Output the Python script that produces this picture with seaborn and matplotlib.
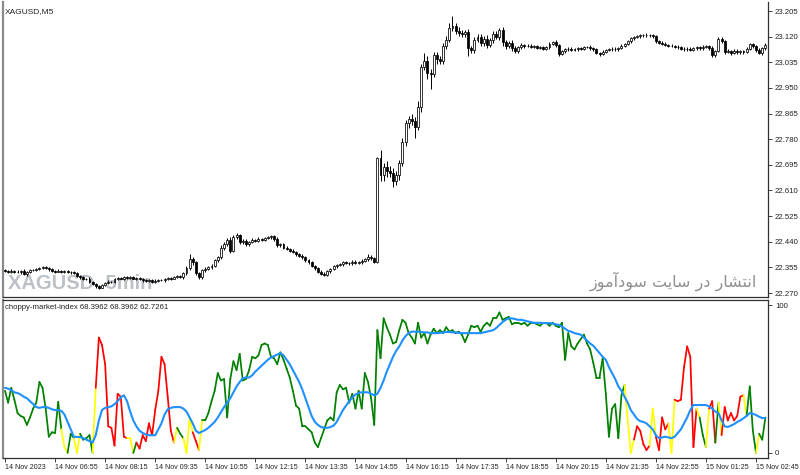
import numpy as np
import pandas as pd
import matplotlib
matplotlib.use("Agg")
import matplotlib.pyplot as plt
import seaborn as sns
from matplotlib.collections import LineCollection

sns.set_style("white")
plt.rcParams['font.family'] = ['Liberation Sans', 'DejaVu Sans']

# ---------------- data (prices in thousandths) ----------------
first_open_k = 22345
closes_k = [
    22342, 22340, 22344, 22341, 22338, 22343, 22332, 22340, 22347, 22346,
    22350, 22352, 22356, 22352, 22348, 22343, 22341, 22344, 22340, 22342,
    22338, 22340, 22336, 22328, 22322, 22316, 22318, 22305, 22300, 22292,
    22288, 22296, 22303, 22308, 22306, 22316, 22320, 22318, 22324, 22320,
    22322, 22318, 22321, 22316, 22312, 22309, 22313, 22307, 22311, 22314,
    22312, 22316, 22320, 22318, 22324, 22326, 22322, 22335, 22352, 22382,
    22372, 22336, 22322, 22345, 22350, 22355, 22360, 22378, 22388, 22420,
    22432, 22445, 22410, 22455, 22462, 22440, 22444, 22432, 22440, 22446,
    22444, 22450, 22447, 22452, 22455, 22458, 22450, 22428, 22432, 22420,
    22415, 22410, 22405, 22398, 22394, 22388, 22378, 22372, 22360, 22352,
    22340, 22334, 22330, 22342, 22350, 22358, 22362, 22366, 22372, 22370,
    22368, 22374, 22370, 22372, 22376, 22382, 22390, 22386, 22374, 22718,
    22660, 22688, 22675, 22668, 22640, 22660, 22700, 22770, 22832, 22848,
    22840, 22820, 22886, 23020, 23040, 23000, 22996, 23060, 23045, 23040,
    23090, 23110, 23150, 23155, 23140, 23132, 23128, 23135, 23082, 23075,
    23110, 23120, 23098, 23112, 23092, 23108, 23128, 23120, 23142, 23102,
    23088, 23100, 23082, 23072, 23085, 23092, 23088, 23090, 23086, 23088,
    23083, 23085, 23080, 23084, 23096, 23102, 23092, 23062, 23072, 23078,
    23080, 23076, 23079, 23082, 23080, 23085, 23086, 23082, 23078, 23066,
    23062, 23070, 23075, 23078, 23080, 23078, 23082, 23090, 23096, 23104,
    23114, 23118, 23122, 23124, 23124, 23126, 23124, 23122, 23104, 23100,
    23096, 23092, 23090, 23088, 23086, 23084, 23080, 23078, 23080, 23077,
    23082, 23084, 23081, 23086, 23088, 23082, 23058, 23072, 23112, 23105,
    23070, 23072, 23066, 23074, 23068, 23072, 23070, 23080, 23094, 23088,
    23076, 23066, 23082, 23092,
]
hi_ext_k = [
    4, 3, 5, 3, 4, 3, 5, 4, 3, 4,
    3, 4, 3, 4, 3, 5, 3, 4, 3, 3,
    4, 3, 4, 5, 3, 4, 3, 5, 4, 3,
    5, 4, 3, 4, 3, 4, 3, 4, 3, 4,
    3, 4, 3, 3, 4, 3, 4, 3, 4, 3,
    4, 3, 4, 3, 4, 3, 5, 6, 8, 18,
    6, 5, 4, 6, 5, 4, 6, 5, 6, 8,
    6, 8, 10, 6, 8, 5, 6, 5, 4, 5,
    4, 5, 4, 5, 4, 5, 4, 6, 5, 4,
    5, 4, 5, 4, 5, 4, 5, 4, 5, 4,
    4, 5, 4, 5, 4, 5, 4, 5, 4, 5,
    4, 5, 4, 5, 6, 5, 8, 6, 5, 4,
    25, 12, 20, 15, 18, 15, 10, 15, 12, 8,
    14, 12, 20, 10, 25, 15, 12, 8, 10, 12,
    10, 12, 15, 32, 10, 12, 10, 8, 10, 8,
    8, 10, 8, 10, 12, 8, 10, 12, 8, 10,
    8, 6, 8, 6, 5, 6, 5, 4, 5, 4,
    4, 5, 4, 5, 6, 5, 6, 5, 4, 5,
    4, 5, 4, 5, 4, 5, 4, 5, 4, 5,
    4, 5, 4, 5, 4, 5, 4, 5, 4, 5,
    4, 5, 4, 5, 4, 5, 4, 5, 4, 5,
    4, 5, 4, 5, 4, 5, 4, 5, 4, 5,
    4, 5, 4, 5, 4, 5, 6, 5, 8, 6,
    5, 6, 5, 6, 5, 4, 5, 6, 5, 6,
    5, 6, 5, 6,
]
lo_ext_k = [
    3, 4, 3, 5, 3, 4, 3, 4, 3, 4,
    4, 3, 4, 3, 4, 3, 5, 3, 4, 3,
    3, 4, 3, 4, 5, 3, 4, 3, 4, 5,
    4, 3, 4, 3, 4, 3, 4, 3, 4, 3,
    4, 3, 4, 3, 4, 4, 3, 4, 3, 4,
    3, 4, 3, 4, 3, 4, 3, 4, 5, 6,
    8, 6, 6, 5, 6, 5, 4, 5, 6, 6,
    8, 6, 6, 5, 6, 8, 6, 5, 6, 5,
    4, 5, 4, 5, 4, 5, 6, 5, 4, 5,
    4, 5, 4, 5, 4, 5, 4, 5, 4, 5,
    5, 4, 5, 4, 5, 4, 5, 4, 5, 4,
    5, 4, 5, 4, 5, 4, 5, 6, 5, 4,
    20, 18, 22, 15, 20, 12, 15, 10, 12, 15,
    12, 36, 10, 15, 12, 20, 50, 10, 15, 12,
    10, 12, 8, 10, 12, 10, 8, 10, 25, 10,
    10, 8, 10, 8, 10, 8, 10, 8, 10, 12,
    8, 6, 8, 6, 5, 6, 5, 4, 5, 4,
    5, 4, 5, 4, 5, 4, 6, 5, 4, 5,
    4, 5, 4, 5, 4, 5, 4, 5, 4, 5,
    5, 4, 5, 4, 5, 4, 5, 4, 5, 4,
    4, 5, 4, 5, 4, 5, 4, 5, 4, 5,
    5, 4, 5, 4, 5, 4, 5, 4, 5, 4,
    4, 5, 4, 5, 4, 5, 6, 5, 4, 5,
    6, 5, 6, 5, 6, 5, 6, 5, 4, 5,
    6, 5, 6, 5,
]
choppy = [
    42, 34, 44, 36, 27, 25, 24, 19, 24, 30,
    34, 48, 44, 30, 11, 14, 13.5, 34.5, 16, 4,
    0, 13, 10, 0, 13, 9, 10, 12, 0, 44,
    78, 73, 60, 18, 17, 5, 40, 38, 11, 10,
    10, 0, 7, 3, 12, 8, 20, 12, 29, 42,
    65, 60, 38, 15, 7, 17, 13, 10, 0, 24,
    14, 8, 2, 22, 22, 27, 35, 42, 54, 49,
    50, 24, 50, 62, 56, 67, 49, 50, 56, 65,
    64, 66, 73, 74, 73, 65, 64, 60, 68, 63,
    57, 51, 42, 32, 30, 18, 18, 16, 14, 7,
    4, 10, 16, 22, 24, 22, 41, 46, 43, 44,
    34, 40, 30, 42, 30, 54, 48, 37, 19, 83,
    64, 91, 85, 80, 74, 75, 83, 90, 88, 81,
    78, 74, 88, 78, 81, 74, 80, 84, 81, 83,
    81, 85, 82, 83, 81, 82, 80, 75, 80, 86,
    85, 86, 82, 86, 88, 86, 91, 91, 95, 90,
    91, 92, 87, 88, 88, 87, 88, 86, 88, 88,
    87, 86, 88, 88, 86, 88, 86, 85, 88, 63,
    81, 72, 70, 74, 77, 80, 74, 70, 61, 51,
    51, 64, 40, 11, 30, 33, 10, 39, 46, 22,
    0, 9, 18, 15, 6, 2, 5, 30, 11, 2,
    24, 16, 20, 0, 36, 35, 36, 58, 72, 65,
    4, 30, 24, 12, 4, 30, 35, 7, 34, 12,
    31, 22, 27, 22, 25, 38, 39, 25, 45, 15,
    0, 13, 9, 24,
]
choppy_ma = [
    44, 43.5, 42.5, 41, 40.5, 39.5, 38, 37, 35, 33,
    31, 30.5, 31, 31, 30.5, 29.5, 29, 29, 28.5, 26,
    21, 16, 11, 10.8, 10.8, 10, 9, 8, 7, 12,
    22, 29, 30.5, 31, 31.5, 33, 35, 37.5, 39, 35,
    28, 22, 18, 15, 13.5, 12.5, 12, 12, 12, 16,
    20, 26, 29.5, 30.5, 31, 31, 31, 30, 28, 24,
    20, 15, 13.5, 14.5, 15.5, 17, 19, 21, 24, 27.5,
    31, 34, 37, 41, 45, 48, 50.5, 51, 51, 52.5,
    55, 57, 59, 61, 63, 64.5, 65.5, 66.5, 67.5, 66,
    63, 60, 56, 52, 48, 43, 37, 31, 25, 21,
    19, 17.5, 17, 17, 17.5, 18.5, 21, 25, 29, 32,
    35, 37.5, 39.5, 40.5, 41, 41, 41, 40, 39, 40,
    44, 49, 55, 60, 65, 69, 72, 76, 79, 81,
    82, 82, 82, 81.8, 81.5, 81.5, 81, 81, 81, 81.2,
    81.5, 81.8, 81.8, 81.5, 81.5, 81.2, 81, 81, 81, 81,
    81, 81, 81, 81.5, 82, 82.5, 83, 84.5, 86.5, 88.5,
    90, 91, 91, 90.5, 90, 90, 89.5, 89, 88.5, 88,
    88, 88, 87.8, 87.8, 87.8, 87.5, 87, 86.5, 85.5, 84,
    82.5, 82, 81, 80.5, 80, 78, 76, 74, 72.5, 70,
    67.6, 65, 63, 58, 54, 50, 45, 42, 38, 34,
    29, 26, 23, 21.5, 21, 20, 18, 16, 12, 10,
    10.5, 11, 10.5, 10, 11, 13.5, 16, 20, 24, 29,
    32.4, 32.4, 32.4, 32.4, 32.4, 31.5, 30, 28, 27, 22,
    18, 17.6, 18.5, 19.5, 21, 22, 23.5, 25, 27, 26.5,
    25.7, 24.5, 23.6, 23.6,
]
# colour state of the choppy line, as runs (state, number of bars)
color_runs = [
    ("g", 19), ("y", 2), ("g", 2), ("y", 2), ("g", 4), ("y", 1), ("r", 10),
    ("y", 2), ("g", 1), ("r", 12), ("y", 1), ("g", 2), ("y", 3), ("r", 2),
    ("y", 1), ("g", 135), ("y", 3), ("r", 5), ("y", 2), ("r", 4), ("y", 2),
    ("r", 7), ("y", 1), ("g", 2), ("y", 1), ("r", 2), ("g", 1), ("y", 1),
    ("r", 7), ("y", 1), ("g", 3), ("y", 1), ("g", 2),
]
price_tick_labels = ["23.205", "23.120", "23.035", "22.950", "22.865", "22.780",
                     "22.695", "22.610", "22.525", "22.440", "22.355", "22.270"]
time_labels = ["14 Nov 2023", "14 Nov 06:55", "14 Nov 08:15", "14 Nov 09:35",
               "14 Nov 10:55", "14 Nov 12:15", "14 Nov 13:35", "14 Nov 14:55",
               "14 Nov 16:15", "14 Nov 17:35", "14 Nov 18:55", "14 Nov 20:15",
               "14 Nov 21:35", "14 Nov 22:55", "15 Nov 01:25", "15 Nov 02:45"]
time_label_bars = [0, 16, 32, 48, 64, 80, 96, 112, 128, 144, 160, 176, 192, 208, 224, 240]
symbol_title = "XAGUSD,M5"
indicator_title = "choppy-market-index 68.3962 68.3962 62.7261"
watermark_left = "XAGUSD  5min"
watermark_right = "انتشار در سایت سودآموز"

# ---------------- build frame ----------------
n = len(closes_k)
closes = np.array(closes_k) / 1000.0
opens = np.array([first_open_k] + closes_k[:-1]) / 1000.0
highs = np.maximum(opens, closes) + np.array(hi_ext_k) / 1000.0
lows = np.minimum(opens, closes) - np.array(lo_ext_k) / 1000.0
state = "".join(s * k for s, k in color_runs)
df = pd.DataFrame({"bar": np.arange(n), "open": opens, "close": closes,
                   "high": highs, "low": lows,
                   "chop": choppy, "ma": choppy_ma, "state": list(state)})

W, H = 800, 475
fig = plt.figure(figsize=(8, 4.75), dpi=100)
fig.patch.set_facecolor("white")
ax1 = fig.add_axes([3 / W, 1 - 297 / H, 765 / W, 295 / H])
ax2 = fig.add_axes([3 / W, 1 - 458 / H, 765 / W, 158 / H])

pxbar = 751 / 240.0
xl = (-2 / pxbar, 763 / pxbar)

# ---- price panel ----
ax1.vlines(df["bar"], df["low"], df["high"], color="black", lw=0.7, zorder=3)
bull = df["close"] >= df["open"]
body = (df["close"] - df["open"]).abs()
body = body.where(body > 0.0008, 0.0008)
ax1.bar(df["bar"][bull], body[bull], bottom=df["open"][bull], width=0.62,
        color="white", edgecolor="black", linewidth=0.55, zorder=4)
ax1.bar(df["bar"][~bull], body[~bull], bottom=df["close"][~bull], width=0.62,
        color="black", edgecolor="black", linewidth=0.55, zorder=4)

ppx = 0.935 / 282
ax1.set_ylim(22.270 - 4 * ppx, 23.205 + 9 * ppx)
ax1.set_xlim(*xl)
ax1.set_xticks([])
pvals = [float(s) for s in price_tick_labels]
ax1.yaxis.tick_right()
ax1.set_yticks(pvals)
ax1.set_yticklabels(price_tick_labels)
ax1.tick_params(axis="y", direction="out", length=3, width=0.6, pad=2,
                labelsize=5.6, colors="#222222", right=True, left=False)

ax1.text(0.003, 0.967, symbol_title, transform=ax1.transAxes, fontsize=6,
         color="#222222", va="center", ha="left")
ax1.text(0.006, 0.047, watermark_left, transform=ax1.transAxes, fontsize=14.5,
         fontweight="bold", color="#bcc1c7", va="center", ha="left",
         family=["Liberation Sans"], zorder=1)


def shape_fa(s):
    # Persian visual forms (presentation forms), laid out left-to-right
    forms = {"انتشار": "\uFEAD\uFE8E\uFEB8\uFE98\uFEE7\uFE8D",
             "در": "\uFEAD\uFEA9",
             "سایت": "\uFE96\uFBFE\uFE8E\uFEB3",
             "سودآموز": "\uFEAF\uFEEE\uFEE3\uFE81\uFEA9\uFEEE\uFEB3"}
    return " ".join(forms.get(w, w) for w in reversed(s.split(" ")))


ax1.text(0.986, 0.054, shape_fa(watermark_right), transform=ax1.transAxes,
         fontsize=11.5, color="#8f8f8f", va="center", ha="right",
         family=["DejaVu Sans"], zorder=1)

# ---- indicator panel ----
cmap = {"g": "#008000", "y": "#FFFF00", "r": "#FF0000"}
pts = df[["bar", "chop"]].to_numpy(dtype=float)
segs = np.stack([pts[:-1], pts[1:]], axis=1)
seg_cols = [cmap[s] for s in df["state"].iloc[1:]]
ax2.add_collection(LineCollection(segs, colors=seg_cols, linewidths=1.25,
                                  zorder=3, capstyle="round", joinstyle="round"))
sns.lineplot(data=df, x="bar", y="ma", ax=ax2, color="#1E90FF", lw=1.5,
             zorder=4, estimator=None)

ax2.set_ylim(-3.4, 103.4)
ax2.set_xlim(*xl)
ax2.set_xlabel("")
ax2.set_ylabel("")
ax2.yaxis.tick_right()
ax2.set_yticks([0, 100])
ax2.set_yticklabels(["0", "100"])
ax2.tick_params(axis="y", direction="out", length=3, width=0.6, pad=2,
                labelsize=5.6, colors="#222222", right=True, left=False)
ax2.set_xticks(time_label_bars)
ax2.set_xticklabels(time_labels, ha="left")
ax2.tick_params(axis="x", direction="out", length=3, width=0.6, pad=1.5,
                labelsize=5.1, colors="#222222", bottom=True)
ax2.text(0.003, 0.955, indicator_title, transform=ax2.transAxes, fontsize=5.6,
         color="#222222", va="center", ha="left")

for ax in (ax1, ax2):
    for side in ("top", "bottom", "right"):
        ax.spines[side].set_color("#303030")
        ax.spines[side].set_linewidth(0.9)
    ax.spines["left"].set_color("#8a8a8a")
    ax.spines["left"].set_linewidth(1.6)
ax1.spines["top"].set_visible(False)

fig.savefig("out.png", dpi=100, facecolor="white")
